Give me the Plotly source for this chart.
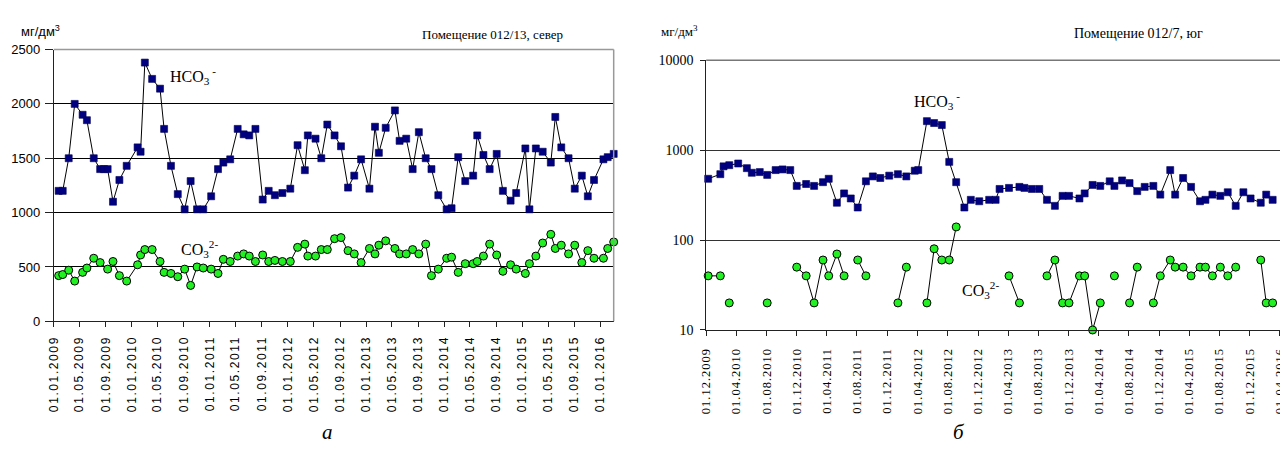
import plotly.graph_objects as go

# ---- Room 012/13 (north): sampling dates and concentrations, mg/dm3 ----
north_dates = [
    "2009-01-24", "2009-02-12", "2009-03-12", "2009-04-09", "2009-05-16", "2009-06-05",
    "2009-07-07", "2009-08-06", "2009-08-24", "2009-09-10", "2009-10-05", "2009-11-04",
    "2009-12-08",
    "2010-01-28", "2010-02-11", "2010-03-03", "2010-04-06", "2010-05-13", "2010-06-01",
    "2010-07-03", "2010-08-04", "2010-09-05", "2010-10-03", "2010-11-02", "2010-12-01",
    "2011-01-07", "2011-02-08", "2011-03-05", "2011-04-06", "2011-05-11", "2011-06-08",
    "2011-07-04", "2011-08-02", "2011-09-05", "2011-10-03", "2011-11-01", "2011-12-06",
    "2012-01-12", "2012-02-15", "2012-03-20", "2012-04-03", "2012-05-09", "2012-06-05",
    "2012-07-03", "2012-08-06", "2012-09-05", "2012-10-08", "2012-11-06", "2012-12-08",
    "2013-01-16", "2013-02-11", "2013-03-01", "2013-04-02", "2013-05-15", "2013-06-06",
    "2013-07-07", "2013-08-06", "2013-09-04", "2013-10-06", "2013-11-02", "2013-12-04",
    "2014-01-12", "2014-02-04", "2014-03-07", "2014-04-09", "2014-05-16", "2014-06-04",
    "2014-07-03", "2014-08-01", "2014-09-03", "2014-10-02", "2014-11-07", "2014-12-03",
    "2015-01-15", "2015-02-03", "2015-03-05", "2015-04-06", "2015-05-14", "2015-06-04",
    "2015-07-02", "2015-08-05", "2015-09-03", "2015-10-06", "2015-11-03", "2015-12-02",
    "2016-01-15", "2016-02-04", "2016-03-03",
]
north_hco3 = [
    1200, 1200, 1500, 2000, 1900, 1850, 1500, 1400, 1400, 1400, 1100, 1300, 1430,
    1600, 1560, 2380, 2230, 2140, 1770, 1430, 1170, 1030, 1290, 1030, 1030,
    1150, 1400, 1460, 1490, 1770, 1720, 1710, 1770, 1120, 1200, 1160, 1180,
    1220, 1620, 1390, 1710, 1680, 1500, 1810, 1710, 1610, 1230, 1340, 1490,
    1220, 1790, 1550, 1780, 1940, 1660, 1680, 1400, 1740, 1500, 1400, 1160,
    1030, 1040, 1510, 1290, 1340, 1710, 1530, 1400, 1540, 1200, 1110, 1180,
    1590, 1030, 1590, 1560, 1460, 1880, 1600, 1500, 1220, 1340, 1150, 1300,
    1490, 1510, 1540,
]
north_co3 = [
    420, 430, 470, 370, 450, 490, 580, 540, None, 480, 550, 420, 370,
    520, 610, 660, 660, 550, 450, 440, 410, 480, 330, 500, 490,
    480, 440, 570, 550, 600, 620, 600, 550, 610, 550, 560, 550,
    550, 680, 710, 600, 600, 660, 660, 760, 770, 650, 620, 540,
    670, 620, 700, 740, 670, 620, 620, 660, 620, 710, 420, 480,
    580, 590, 450, 530, 530, 550, 600, 710, 610, 460, 520, 480,
    440, 530, 600, 720, 800, 670, 700, 620, 700, 540, 650, 580,
    580, 670, 730,
]

# ---- Room 012/7 (south) ----
south_dates = [
    "2009-12-09",
    "2010-01-27", "2010-02-09", "2010-03-04", "2010-04-09", "2010-05-14", "2010-06-03",
    "2010-07-05", "2010-08-04", "2010-09-07", "2010-10-05", "2010-11-05", "2010-12-01",
    "2011-01-08", "2011-02-09", "2011-03-17", "2011-04-09", "2011-05-12", "2011-06-10",
    "2011-07-07", "2011-08-04", "2011-09-06", "2011-10-04", "2011-11-03", "2011-12-09",
    "2012-01-13", "2012-02-16", "2012-03-21", "2012-04-04", "2012-05-09", "2012-06-07",
    "2012-07-08", "2012-08-07", "2012-09-04", "2012-10-07", "2012-11-02", "2012-12-06",
    "2013-01-15", "2013-02-10", "2013-02-26", "2013-04-05", "2013-05-17", "2013-06-06",
    "2013-07-06", "2013-08-05", "2013-09-05", "2013-10-07", "2013-11-07", "2013-12-03",
    "2014-01-14", "2014-02-04", "2014-03-08", "2014-04-08", "2014-05-16", "2014-06-04",
    "2014-07-05", "2014-08-04", "2014-09-04", "2014-10-04", "2014-11-08", "2014-12-06",
    "2015-01-15", "2015-02-04", "2015-03-08", "2015-04-09", "2015-05-15", "2015-06-06",
    "2015-07-04", "2015-08-05", "2015-09-04", "2015-10-06", "2015-11-06", "2015-12-05",
    "2016-01-15", "2016-02-06", "2016-03-03",
]
south_hco3 = [
    480,
    540, 660, 680, 710, 630, 560, 570, 530, 600, 610, 600, 400,
    420, 400, 440, 480, 260, 330, 290, 230, 450, 510, 490, 520,
    540, 510, 590, 600, 2100, 2000, 1900, 740, 440, 230, 280, 270,
    280, 280, 370, 380, 390, 380, 370, 370, 280, 240, 310, 310,
    290, 330, 410, 400, 450, 400, 460, 430, 350, 390, 400, 320,
    600, 320, 490, 390, 270, 280, 320, 310, 340, 240, 340, 290,
    260, 320, 280,
]
south_co3 = [
    40,
    40, None, 20, None, None, None, None, 20, None, None, None, 50,
    40, 20, 60, 40, 70, 40, None, 60, 40, None, None, None,
    20, 50, None, None, 20, 80, 60, 60, 140, None, None, None,
    None, None, None, 40, 20, None, None, None, 40, 60, 20, 20,
    40, 40, 10, 20, None, 40, None, 20, 50, None, 20, 40,
    60, 50, 50, 40, 50, 50, 40, 50, 40, 50, None, None,
    60, 20, 20,
]

# The figure is a little wider than the page, so the right panel runs off the edge.
VIEW_W, H = 1280, 455
W = 1292
NAVY = "#000080"
LIME = "#22F022"
SERIF = "Liberation Serif, Times New Roman, serif"
SANS = "Liberation Sans, Arial, sans-serif"


def fx(x):
    return x / W


def fy(y):
    return 1 - y / H


square = dict(symbol="square", size=7, color=NAVY, line=dict(color="#00005a", width=0.6))
circle = dict(symbol="circle", size=8, color=LIME, line=dict(color="black", width=1))
link = dict(color="black", width=1)

fig = go.Figure()
fig.add_trace(go.Scatter(x=north_dates, y=north_hco3, mode="lines+markers", line=link,
                         marker=square, xaxis="x", yaxis="y", cliponaxis=False))
fig.add_trace(go.Scatter(x=north_dates, y=north_co3, mode="lines+markers", line=link,
                         marker=circle, connectgaps=True, xaxis="x", yaxis="y",
                         cliponaxis=False))
fig.add_trace(go.Scatter(x=south_dates, y=south_hco3, mode="lines+markers", line=link,
                         marker=square, xaxis="x2", yaxis="y2", cliponaxis=False))
fig.add_trace(go.Scatter(x=south_dates, y=south_co3, mode="lines+markers", line=link,
                         marker=circle, connectgaps=False, xaxis="x2", yaxis="y2",
                         cliponaxis=False))

date_axis = dict(
    type="date", dtick="M4", tickformat="%d.%m.%Y", tickangle=-90,
    ticks="outside", ticklen=5, tickcolor="#222", showline=True, linecolor="#222",
    linewidth=1, showgrid=False, zeroline=False, ticklabeloverflow="allow",
)

fig.update_layout(
    width=W, height=H,
    margin=dict(l=0, r=0, t=0, b=0),
    paper_bgcolor="white", plot_bgcolor="white",
    showlegend=False,
    xaxis=dict(date_axis, domain=[fx(47), fx(610)], anchor="y",
               range=["2009-01-01", "2016-03-03"], tick0="2009-01-01",
               ticklabelstandoff=4,
               tickfont=dict(family=SANS, size=12, color="black")),
    yaxis=dict(domain=[fy(325), fy(44)], anchor="x", range=[0, 2500], dtick=500,
               showgrid=True, gridcolor="black", gridwidth=1, zeroline=False,
               showline=True, linecolor="#222", ticks="outside", ticklen=8,
               tickcolor="#222", ticklabelstandoff=2,
               tickfont=dict(family=SANS, size=13, color="black")),
    xaxis2=dict(date_axis, domain=[fx(703), 1.0], anchor="y2",
                range=["2009-12-01", "2016-05-20"], tick0="2009-12-01",
                ticklabelstandoff=7,
                tickfont=dict(family=SERIF, size=12.5, color="black")),
    yaxis2=dict(domain=[fy(334), fy(55)], anchor="x2", type="log", range=[1, 4],
                tickvals=[10, 100, 1000, 10000], ticktext=["10", "100", "1000", "10000"],
                showgrid=True, gridcolor="#333", gridwidth=1, zeroline=False,
                showline=True, linecolor="#222", ticks="outside", ticklen=5,
                tickcolor="#222", ticklabelstandoff=4,
                tickfont=dict(family=SERIF, size=14, color="black")),
    shapes=[
        dict(type="line", xref="x domain", yref="y domain", x0=0, x1=1, y0=1, y1=1,
             line=dict(color="#999", width=1.5)),
        dict(type="line", xref="x domain", yref="y domain", x0=1, x1=1, y0=0, y1=1,
             line=dict(color="#999", width=1.5)),
        dict(type="line", xref="x2 domain", yref="y2 domain", x0=0, x1=1, y0=1, y1=1,
             line=dict(color="#777", width=1.5)),
    ],
)


def note(text, x, y, size, family, anchor="center"):
    fig.add_annotation(text=text, x=fx(x), y=fy(y), xref="paper", yref="paper",
                       xanchor=anchor, yanchor="middle", showarrow=False,
                       font=dict(family=family, size=size, color="black"))


note("мг/дм<sup>3</sup>", 12, 25, 13, SANS, anchor="left")
note("Помещение 012/13, север", 488, 28, 13, SERIF)
note("HCO<sub>3</sub><sup> -</sup>", 187, 71, 16, SERIF)
note("CO<sub>3</sub><sup>2-</sup>", 194, 250, 16, SERIF)
note("<i>а</i>", 322, 440, 21, SERIF)

note("мг/дм<sup>3</sup>", 656, 25, 13, SERIF, anchor="left")
note("Помещение 012/7, юг", 1138, 27, 14, SERIF)
note("HCO<sub>3</sub><sup> -</sup>", 935, 97, 16, SERIF)
note("CO<sub>3</sub><sup>2-</sup>", 979, 293, 16, SERIF)
note("<i>б</i>", 957, 440, 21, SERIF)

# Page clipped to the 1280x455 view; date labels set with a little tracking.
page_css = """
var st = document.createElement('style');
st.textContent = 'html,body{margin:0;padding:0;width:%dpx;height:%dpx;overflow:hidden}'
  + ' .xtick text{letter-spacing:1.6px} .x2tick text{letter-spacing:1px}';
document.head.appendChild(st);
""" % (VIEW_W, H)
fig.write_html("out.html", post_script=page_css)
